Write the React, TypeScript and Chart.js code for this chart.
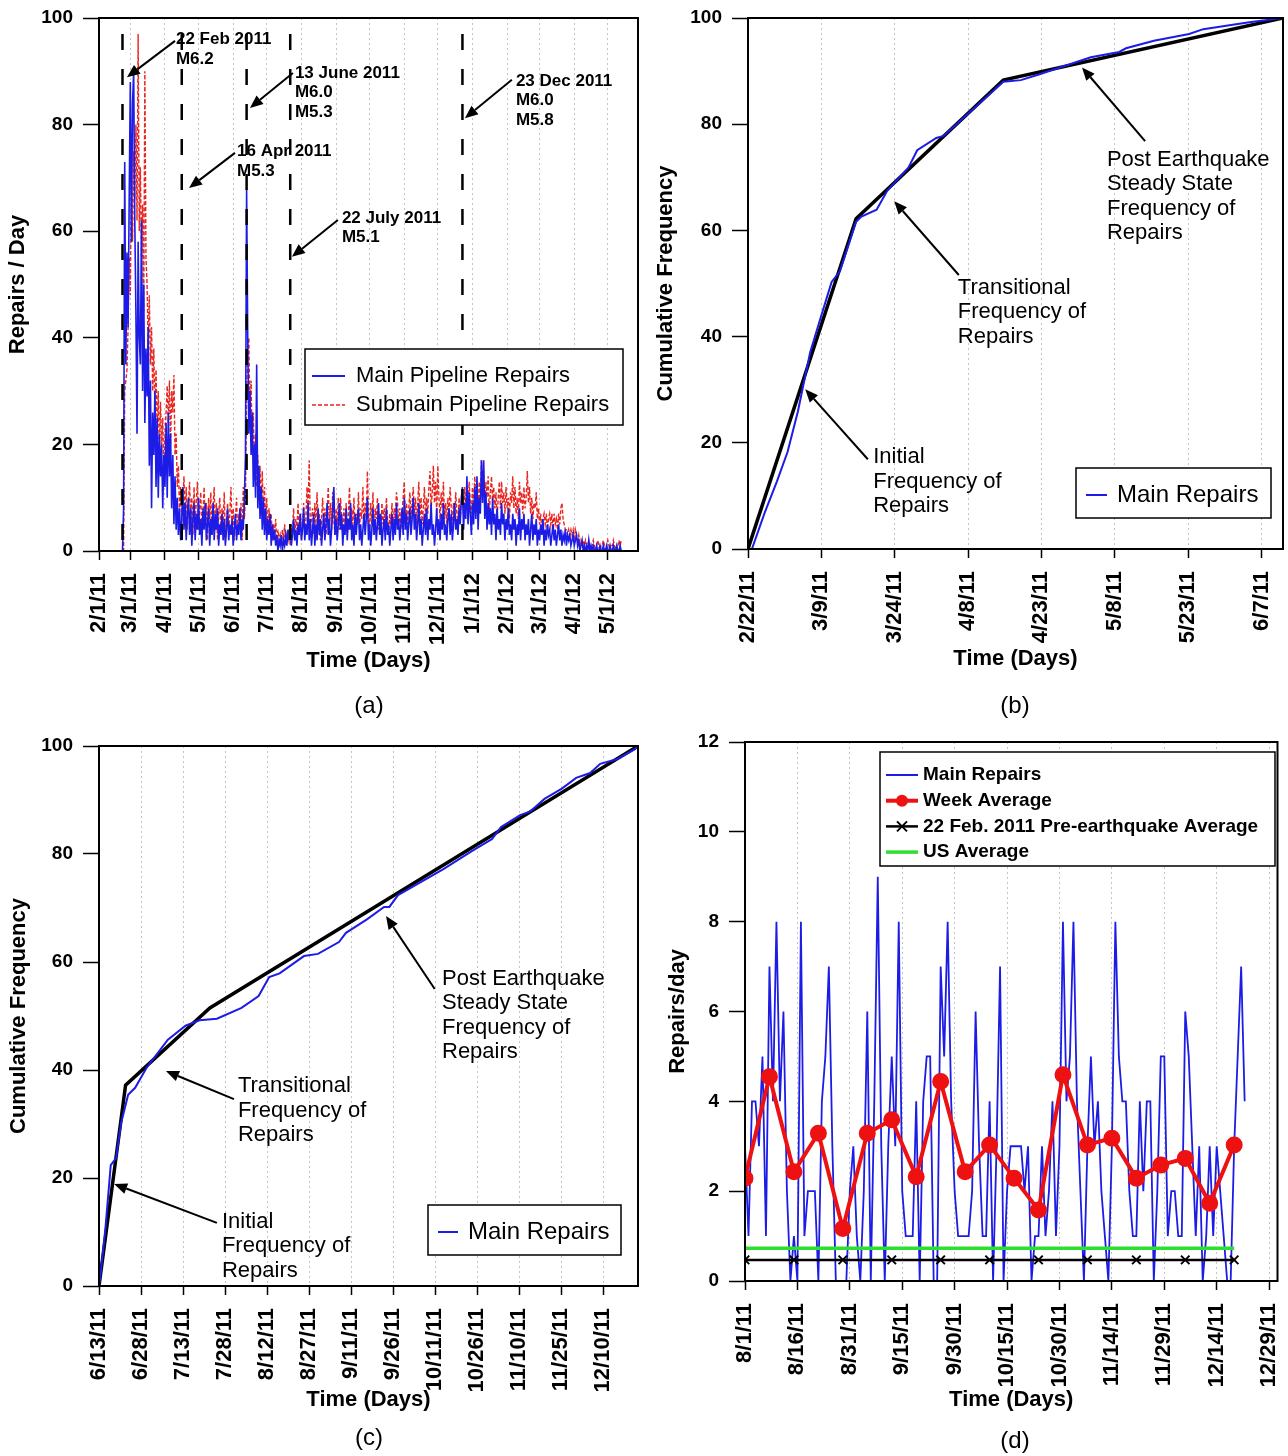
import React, { useEffect, useRef } from 'react';
import { Chart, registerables } from 'chart.js';

Chart.register(...registerables);

const FONT = '"Liberation Sans", Arial, Helvetica, sans-serif';
Chart.defaults.font.family = FONT;
Chart.defaults.color = '#000';

// ---------------- Panel (a): daily repairs ----------------
const aBase = '2/1/11';
const aXMax = 482;
const aTickLabels = ['2/1/11', '3/1/11', '4/1/11', '5/1/11', '6/1/11', '7/1/11', '8/1/11', '9/1/11', '10/1/11', '11/1/11', '12/1/11', '1/1/12', '2/1/12', '3/1/12', '4/1/12', '5/1/12'];
const aSeriesStart = '2/22/11';
const aMainRepairs = [
  0, 8, 73, 35, 56, 42, 66, 88, 58, 84,
  90, 62, 45, 22, 58, 40, 35, 62, 30, 50,
  24, 38, 29, 42, 16, 32, 8, 26, 18, 30,
  12, 25, 10, 22, 14, 20, 8, 18, 12, 24,
  10, 26, 14, 22, 8, 18, 5, 14, 4, 10,
  3, 8, 2, 6, 12, 4, 9, 2, 7, 10,
  3, 8, 1, 6, 9, 2, 7, 4, 10, 3,
  6, 1, 8, 4, 9, 2, 5, 8, 1, 6,
  3, 9, 2, 7, 4, 8, 1, 5, 3, 7,
  2, 6, 1, 4, 8, 2, 5, 3, 6, 1,
  4, 7, 2, 5, 3, 8, 2, 6, 4, 10,
  18, 68, 40, 22, 30, 18, 26, 12, 20, 10,
  35, 8, 16, 6, 12, 4, 10, 3, 8, 2,
  6, 3, 7, 1, 5, 2, 4, 1, 3, 0,
  2, 1, 3, 0, 2, 1, 3, 1, 4, 2,
  5, 1, 3, 6, 2, 4, 1, 5, 3, 7,
  2, 4, 8, 2, 5, 3, 9, 2, 6, 1,
  4, 7, 1, 5, 2, 8, 3, 6, 1, 4,
  7, 2, 5, 9, 3, 6, 1, 4, 8, 12,
  3, 6, 2, 5, 9, 4, 7, 1, 5, 3,
  8, 2, 6, 4, 9, 2, 5, 1, 7, 3,
  6, 8, 2, 5, 1, 4, 7, 3, 6, 10,
  2, 5, 1, 4, 8, 3, 6, 2, 5, 9,
  3, 7, 1, 4, 6, 2, 8, 3, 5, 1,
  4, 7, 2, 6, 3, 9, 4, 6, 2, 5,
  8, 3, 10, 4, 7, 2, 5, 8, 3, 6,
  10, 4, 7, 2, 5, 9, 3, 6, 1, 4,
  7, 3, 8, 2, 6, 4, 9, 3, 5, 1,
  4, 8, 3, 6, 2, 7, 4, 9, 3, 5,
  2, 6, 8, 3, 7, 2, 5, 9, 4, 6,
  3, 8, 5, 10, 12, 4, 9, 6, 14, 5,
  11, 7, 3, 9, 5, 12, 6, 14, 4, 10,
  7, 17, 9, 17, 6, 11, 4, 9, 5, 8,
  3, 10, 5, 7, 2, 8, 4, 6, 3, 9,
  5, 7, 2, 6, 4, 8, 3, 5, 2, 7,
  4, 6, 1, 5, 3, 8, 2, 6, 4, 7,
  2, 5, 3, 6, 1, 4, 7, 2, 5, 3,
  6, 1, 4, 2, 5, 3, 6, 1, 4, 2,
  5, 3, 4, 1, 3, 5, 2, 4, 1, 3,
  5, 2, 4, 1, 3, 2, 4, 1, 3, 2,
  3, 1, 2, 3, 1, 2, 3, 1, 2, 0,
  1, 2, 0, 1, 0, 1, 0, 2, 0, 1,
  0, 1, 0, 0, 1, 0, 0, 1, 0, 0,
  1, 0, 0, 1, 0, 0, 1, 0, 0, 1,
  0, 0, 1, 0, 0, 1, 0,
];
const aSubmainRepairs = [
  0, 0, 30, 32, 34, 42, 55, 48, 70, 58,
  75, 66, 80, 62, 97, 60, 72, 55, 65, 45,
  90, 55, 50, 38, 48, 35, 42, 30, 38, 26,
  34, 22, 30, 18, 28, 20, 25, 15, 22, 26,
  31, 24, 32, 20, 30, 26, 33, 18, 22, 12,
  16, 8, 12, 5, 10, 14, 6, 12, 4, 9,
  13, 5, 10, 3, 12, 6, 9, 13, 4, 8,
  11, 3, 7, 12, 5, 9, 2, 10, 6, 11,
  3, 8, 12, 4, 9, 2, 7, 10, 3, 8,
  5, 11, 2, 6, 9, 3, 7, 12, 4, 8,
  2, 6, 10, 3, 7, 4, 9, 2, 12, 6,
  10, 30, 38, 40, 24, 32, 20, 26, 14, 22,
  12, 18, 10, 16, 8, 15, 6, 12, 5, 10,
  3, 8, 4, 7, 2, 5, 3, 6, 1, 4,
  2, 3, 1, 4, 2, 5, 1, 3, 2, 4,
  1, 5, 3, 8, 2, 6, 4, 9, 3, 7,
  2, 5, 9, 3, 6, 12, 8, 17, 4, 6,
  8, 3, 9, 5, 11, 4, 7, 2, 6, 10,
  4, 8, 3, 7, 12, 5, 9, 4, 11, 6,
  3, 8, 5, 10, 4, 10, 6, 3, 8, 5,
  9, 3, 7, 12, 4, 8, 5, 10, 3, 7,
  5, 11, 4, 8, 6, 12, 5, 9, 6, 15,
  7, 4, 9, 5, 11, 3, 8, 6, 10, 4,
  7, 3, 9, 5, 8, 4, 10, 6, 3, 7,
  5, 9, 4, 8, 6, 11, 9, 5, 8, 4,
  7, 10, 13, 6, 9, 5, 8, 11, 6, 9,
  12, 7, 10, 5, 9, 13, 6, 10, 5, 8,
  12, 6, 10, 7, 12, 15, 8, 11, 16, 9,
  13, 7, 16, 10, 6, 11, 8, 13, 6, 9,
  5, 10, 7, 12, 8, 5, 9, 6, 11, 7,
  5, 10, 6, 9, 10, 7, 12, 8, 11, 6,
  13, 9, 7, 12, 8, 14, 10, 12, 7, 13,
  9, 17, 11, 15, 8, 13, 10, 14, 7, 11,
  14, 9, 12, 8, 11, 6, 10, 13, 8, 13,
  9, 11, 7, 12, 8, 10, 6, 11, 9, 14,
  8, 12, 7, 10, 6, 13, 9, 11, 7, 12,
  8, 10, 15, 9, 12, 7, 10, 6, 9, 8,
  11, 6, 8, 5, 7, 4, 6, 7, 5, 7,
  4, 6, 7, 5, 7, 4, 7, 5, 6, 4,
  7, 5, 8, 9, 6, 5, 4, 4, 3, 4,
  3, 4, 3, 4, 2, 4, 3, 2, 3, 1,
  2, 1, 2, 1, 2, 1, 1, 2, 1, 0,
  1, 2, 1, 0, 1, 2, 1, 0, 1, 1,
  2, 1, 0, 1, 2, 1, 0, 1, 1, 2,
  1, 0, 1, 1, 2, 1, 2,
];
const aEventDates = ['2/22/11', '4/16/11', '6/13/11', '7/22/11', '12/23/11'];
const aEventTop = 97;
const aNotes = [
  { lines: ['22 Feb 2011', 'M6.2'], at: [68.8, 96], from: [68, 95.7], to: [25, 88.9] },
  { lines: ['16 Apr 2011', 'M5.3'], at: [123.4, 74.9], from: [121.6, 74.7], to: [80.5, 68.1] },
  { lines: ['13 June 2011', 'M6.0', 'M5.3'], at: [175.2, 89.7], from: [173.4, 89.7], to: [135, 83.1] },
  { lines: ['22 July 2011', 'M5.1'], at: [217.2, 62.5], from: [213.6, 62.1], to: [172.5, 55.2] },
  { lines: ['23 Dec 2011', 'M6.0', 'M5.8'], at: [372.8, 88.2], from: [369.2, 88.4], to: [327.2, 81.2] },
];

// ---------------- Panel (b): cumulative, Feb - June 2011 ----------------
const bBase = '2/22/11';
const bXMax = 109.4;
const bTickLabels = ['2/22/11', '3/9/11', '3/24/11', '4/8/11', '4/23/11', '5/8/11', '5/23/11', '6/7/11'];
const bMainDays = [0.8, 3.4, 5.9, 8.1, 10.2, 12.7, 14.9, 17.1, 18.8, 22.1, 23.2, 26.3, 28.5, 32.8, 34.6, 38.5, 40, 44.3, 48.6, 52.2, 55.8, 59.3, 65.8, 70.1, 75.9, 77.3, 83, 90.2, 93.1, 98.8, 102.5, 109.4];
const bMainCum = [0, 6.8, 12.7, 18.3, 25.9, 37, 43.7, 50.3, 52.3, 61.6, 62.6, 63.9, 67.5, 71.8, 75.1, 77.4, 77.8, 81.4, 85, 88, 88.3, 89.3, 91.3, 92.6, 93.6, 94.3, 95.7, 97, 97.9, 98.7, 99.2, 100];
const bFitDays = [0, 22.1, 52.2, 109.4];
const bFitCum = [0, 62.2, 88.3, 100];
const bNotes = [
  { lines: ['Post Earthquake', 'Steady State', 'Frequency of', 'Repairs'], at: [73.4, 73.3], from: [81.2, 76.8], to: [68.3, 90.7] },
  { lines: ['Transitional', 'Frequency of', 'Repairs'], at: [42.9, 49.2], from: [43.1, 51.6], to: [29.9, 65.5] },
  { lines: ['Initial', 'Frequency of', 'Repairs'], at: [25.6, 17.3], from: [24.5, 16.9], to: [11.7, 30.1] },
];

// ---------------- Panel (c): cumulative, June - Dec 2011 ----------------
const cBase = '6/13/11';
const cXMax = 192.5;
const cTickLabels = ['6/13/11', '6/28/11', '7/13/11', '7/28/11', '8/12/11', '8/27/11', '9/11/11', '9/26/11', '10/11/11', '10/26/11', '11/10/11', '11/25/11', '12/10/11'];
const cMainDays = [0, 0.4, 2.3, 4.2, 6.1, 7.9, 10.4, 12.9, 17.1, 24.6, 30.9, 35.9, 42.1, 50.9, 57, 60.8, 64.5, 73.2, 78.2, 85.7, 88.2, 95.7, 101.8, 103.7, 106.8, 123, 133, 140.4, 143.6, 150.4, 154.1, 159.1, 165.3, 170.4, 175.4, 179, 185.2, 191.4, 192.5];
const cMainCum = [0, 1.4, 10.7, 22.4, 23.7, 30.2, 35.4, 36.7, 40.5, 45.6, 48.2, 49.2, 49.5, 51.5, 53.7, 57.2, 57.9, 61.1, 61.5, 63.7, 65.4, 67.9, 70.2, 70.2, 72.4, 77.2, 80.5, 82.8, 85, 87.2, 87.9, 90.2, 92.1, 94.1, 95, 96.7, 97.6, 99.4, 100];
const cFitDays = [0, 9.5, 39.6, 192.5];
const cFitCum = [0, 37.2, 51.5, 100];
const cNotes = [
  { lines: ['Post Earthquake', 'Steady State', 'Frequency of', 'Repairs'], at: [122.5, 56.9], from: [119.9, 55], to: [102.5, 68.5] },
  { lines: ['Transitional', 'Frequency of', 'Repairs'], at: [49.6, 37], from: [48.2, 34.6], to: [23.9, 39.8] },
  { lines: ['Initial', 'Frequency of', 'Repairs'], at: [43.9, 11.9], from: [42.1, 11.7], to: [5.4, 18.9] },
];

// ---------------- Panel (d): Aug - Dec 2011 ----------------
const dBase = '8/1/11';
const dXMax = 152.4;
const dTickLabels = ['8/1/11', '8/16/11', '8/31/11', '9/15/11', '9/30/11', '10/15/11', '10/30/11', '11/14/11', '11/29/11', '12/14/11', '12/29/11'];
const dMainRepairs = [
  3, 1, 4, 4, 3, 5, 1, 7, 4, 8,
  4, 6, 2, 0, 1, 0, 8, 1, 2, 2,
  2, 0, 4, 5, 7, 3, 0, 0, 0, 0,
  2, 3, 1, 0, 2, 6, 0, 4, 9, 3,
  0, 3, 5, 3, 8, 2, 1, 1, 1, 4,
  0, 4, 5, 5, 0, 0, 7, 5, 8, 4,
  2, 1, 1, 1, 1, 2, 6, 3, 1, 1,
  4, 0, 3, 7, 0, 2, 3, 3, 3, 3,
  2, 3, 0, 1, 1, 3, 1, 2, 4, 1,
  3, 8, 4, 5, 8, 4, 2, 0, 3, 5,
  3, 4, 2, 1, 0, 3, 8, 5, 4, 4,
  2, 1, 1, 4, 2, 4, 4, 0, 2, 5,
  5, 1, 2, 2, 1, 1, 6, 5, 3, 1,
  3, 0, 1, 3, 1, 3, 2, 1, 0, 0,
  3, 5, 7, 4,
];
const dWeekDays = [0, 7, 14, 21, 28, 35, 42, 49, 56, 63, 70, 77, 84, 91, 98, 105, 112, 119, 126, 133, 140];
const dWeekAvg = [2.29, 4.55, 2.43, 3.29, 1.17, 3.29, 3.59, 2.32, 4.44, 2.43, 3.03, 2.29, 1.58, 4.59, 3.03, 3.18, 2.29, 2.58, 2.73, 1.73, 3.03];
const dPreDays = [0, 14, 28, 42, 56, 70, 84, 98, 112, 126, 140];
const dPreAvg = [0.47, 0.47, 0.47, 0.47, 0.47, 0.47, 0.47, 0.47, 0.47, 0.47, 0.47];
const dUSDays = [0, 140];
const dUSAvg = [0.73, 0.73];

// ---------------- helpers ----------------
function parseDate(s: string) {
  const [m, d, y] = s.split('/').map(Number);
  return Date.UTC(2000 + y, m - 1, d);
}
function dayOf(s: string, base: string) {
  return Math.round((parseDate(s) - parseDate(base)) / 864e5);
}
const seq = (start: number, vals: number[]) => vals.map((v, i) => ({ x: start + i, y: v }));
const pairs = (xs: number[], ys: number[]) => xs.map((x, i) => ({ x, y: ys[i] }));

function arrow(ctx: any, x1: number, y1: number, x2: number, y2: number) {
  const ang = Math.atan2(y2 - y1, x2 - x1);
  const hl = 13, hw = 5.5;
  const bx = x2 - hl * Math.cos(ang), by = y2 - hl * Math.sin(ang);
  ctx.lineWidth = 2;
  ctx.beginPath(); ctx.moveTo(x1, y1); ctx.lineTo(bx, by); ctx.stroke();
  ctx.beginPath();
  ctx.moveTo(x2, y2);
  ctx.lineTo(bx + hw * Math.sin(ang), by - hw * Math.cos(ang));
  ctx.lineTo(bx - hw * Math.sin(ang), by + hw * Math.cos(ang));
  ctx.closePath(); ctx.fill();
}

function drawLegend(ctx: any, L: any) {
  ctx.save();
  ctx.fillStyle = '#fff';
  ctx.fillRect(L.x, L.y, L.w, L.h);
  ctx.lineWidth = 1.5; ctx.strokeStyle = '#000';
  ctx.strokeRect(L.x, L.y, L.w, L.h);
  ctx.font = L.font; ctx.textBaseline = 'middle'; ctx.textAlign = 'left';
  L.items.forEach((it: any, i: number) => {
    const y = L.y + L.first + i * L.step;
    ctx.save();
    ctx.strokeStyle = it.color; ctx.lineWidth = it.width; ctx.setLineDash(it.dash || []);
    ctx.beginPath(); ctx.moveTo(L.x + L.s0, y); ctx.lineTo(L.x + L.s1, y); ctx.stroke();
    ctx.setLineDash([]);
    const mx = L.x + (L.s0 + L.s1) / 2;
    if (it.marker === 'dot') {
      ctx.fillStyle = it.color; ctx.beginPath(); ctx.arc(mx, y, 6, 0, Math.PI * 2); ctx.fill();
    }
    if (it.marker === 'x') {
      ctx.lineWidth = 2; ctx.beginPath();
      ctx.moveTo(mx - 5, y - 5); ctx.lineTo(mx + 5, y + 5);
      ctx.moveTo(mx - 5, y + 5); ctx.lineTo(mx + 5, y - 5); ctx.stroke();
    }
    ctx.restore();
    ctx.fillStyle = '#000';
    ctx.fillText(it.label, L.x + L.tx, y);
  });
  ctx.restore();
}

function overlay(cfg: any) {
  return {
    id: 'overlay',
    afterDraw(chart: any) {
      const { ctx, chartArea: a } = chart;
      const sx = chart.scales.x, sy = chart.scales.y;
      ctx.save();
      ctx.strokeStyle = '#000'; ctx.lineWidth = 2;
      ctx.strokeRect(a.left, a.top, a.right - a.left, a.bottom - a.top);
      ctx.fillStyle = '#000';
      ctx.font = cfg.noteFont; ctx.textBaseline = 'middle'; ctx.textAlign = 'left';
      for (const n of cfg.notes || []) {
        const tx = sx.getPixelForValue(n.at[0]), ty = sy.getPixelForValue(n.at[1]);
        n.lines.forEach((l: string, i: number) => ctx.fillText(l, tx, ty + i * cfg.noteLH));
        arrow(ctx, sx.getPixelForValue(n.from[0]), sy.getPixelForValue(n.from[1]),
          sx.getPixelForValue(n.to[0]), sy.getPixelForValue(n.to[1]));
      }
      if (cfg.legend) drawLegend(ctx, cfg.legend);
      ctx.restore();
    },
  };
}

function makeOptions(p: any) {
  const tickVals = p.tickLabels.map((l: string) => dayOf(l, p.base));
  return {
    responsive: false,
    animation: false,
    devicePixelRatio: 1,
    layout: { padding: { left: 0, top: p.padTop, right: p.padRight, bottom: 0 } },
    plugins: { legend: { display: false }, tooltip: { enabled: false } },
    elements: { point: { radius: 0 }, line: { tension: 0 } },
    scales: {
      x: {
        type: 'linear', min: 0, max: p.xMax,
        afterBuildTicks: (s: any) => { s.ticks = tickVals.map((v: number) => ({ value: v })); },
        afterFit: (s: any) => { s.height = p.xHeight; s.paddingLeft = 0; s.paddingRight = 0; },
        ticks: {
          autoSkip: false, minRotation: 90, maxRotation: 90, padding: 13, color: '#000',
          font: { family: FONT, size: 22, weight: 'bold' },
          callback: (_v: any, i: number) => p.tickLabels[i],
        },
        grid: { display: true, drawOnChartArea: true, color: '#c4c4c4', lineWidth: 1, drawTicks: true, tickLength: 9, tickColor: '#000', tickWidth: 1.5 },
        border: { display: false, dash: [2, 3] },
        title: { display: true, text: 'Time (Days)', color: '#000', font: { family: FONT, size: 22, weight: 'bold' }, padding: { top: 0, bottom: p.xTitlePad } },
      },
      y: {
        type: 'linear', min: 0, max: p.yMax,
        afterFit: (s: any) => { s.width = p.yWidth; s.paddingTop = 0; s.paddingBottom = 0; },
        ticks: { stepSize: p.yStep, padding: 10, color: '#000', font: { family: FONT, size: 19, weight: 'bold' } },
        grid: { display: true, drawOnChartArea: false, drawTicks: true, tickLength: 16, tickColor: '#000', tickWidth: 1.5 },
        border: { display: false },
        title: { display: true, text: p.yTitle, color: '#000', font: { family: FONT, size: 22, weight: 'bold' }, padding: { top: p.yTitlePad, bottom: 0 } },
      },
    },
  };
}

const BLUE = '#1c1ce6';

function configA() {
  const start = dayOf(aSeriesStart, aBase);
  const events = aEventDates.map((d) => {
    const x = dayOf(d, aBase);
    return { data: [{ x, y: aEventTop }, { x, y: 0 }], borderColor: '#000', borderWidth: 2.5, borderDash: [16, 19], pointRadius: 0, order: 0 };
  });
  return {
    type: 'line',
    data: {
      datasets: [
        ...events,
        { label: 'Main Pipeline Repairs', data: seq(start, aMainRepairs), borderColor: BLUE, borderWidth: 1.6, order: 1 },
        { label: 'Submain Pipeline Repairs', data: seq(start, aSubmainRepairs), borderColor: '#e8251f', borderWidth: 1.4, borderDash: [4, 2], order: 2 },
      ],
    },
    options: makeOptions({ base: aBase, tickLabels: aTickLabels, xMax: aXMax, padTop: 18, padRight: 6, xHeight: 149, yWidth: 99, xTitlePad: 26, yTitlePad: 5, yMax: 100, yStep: 20, yTitle: 'Repairs / Day' }),
    plugins: [overlay({
      notes: aNotes, noteFont: `bold 17px ${FONT}`, noteLH: 19.5,
      legend: {
        x: 305, y: 349, w: 318, h: 76, first: 27, step: 29, s0: 7, s1: 40, tx: 51, font: `22px ${FONT}`,
        items: [
          { label: 'Main Pipeline Repairs', color: BLUE, width: 2 },
          { label: 'Submain Pipeline Repairs', color: '#e8251f', width: 1.6, dash: [4, 2] },
        ],
      },
    })],
  };
}

function configCum(p: any) {
  return {
    type: 'line',
    data: {
      datasets: [
        { label: 'Main Repairs', data: pairs(p.days, p.cum), borderColor: BLUE, borderWidth: 2, order: 0 },
        { label: 'Fit', data: pairs(p.fitDays, p.fitCum), borderColor: '#000', borderWidth: 3.5, order: 1 },
      ],
    },
    options: makeOptions(p.opts),
    plugins: [overlay({
      notes: p.notes, noteFont: `22px ${FONT}`, noteLH: 24.5,
      legend: {
        ...p.legend, first: 27, step: 0, font: `24px ${FONT}`,
        items: [{ label: 'Main Repairs', color: BLUE, width: 2 }],
      },
    })],
  };
}

function configD() {
  return {
    type: 'line',
    data: {
      datasets: [
        { label: 'Week Average', data: pairs(dWeekDays, dWeekAvg), borderColor: '#ee1111', backgroundColor: '#ee1111', borderWidth: 4, pointRadius: 6.5, pointBackgroundColor: '#ee1111', pointBorderColor: '#ee1111', order: 0 },
        { label: '22 Feb. 2011 Pre-earthquake Average', data: pairs(dPreDays, dPreAvg), borderColor: '#000', borderWidth: 2.5, pointStyle: 'crossRot', pointRadius: 6, pointBorderWidth: 2, pointBorderColor: '#000', order: 1 },
        { label: 'US Average', data: pairs(dUSDays, dUSAvg), borderColor: '#2ee02e', borderWidth: 3.5, order: 2 },
        { label: 'Main Repairs', data: seq(0, dMainRepairs), borderColor: BLUE, borderWidth: 1.8, order: 3 },
      ],
    },
    options: makeOptions({ base: dBase, tickLabels: dTickLabels, xMax: dXMax, padTop: 14, padRight: 8, xHeight: 175, yWidth: 101, xTitlePad: 43, yTitlePad: 21, yMax: 12, yStep: 2, yTitle: 'Repairs/day' }),
    plugins: [overlay({
      notes: [], noteFont: `bold 17px ${FONT}`, noteLH: 20,
      legend: {
        x: 236, y: 24, w: 395, h: 114, first: 23, step: 25.7, s0: 6, s1: 38, tx: 43, font: `bold 19px ${FONT}`,
        items: [
          { label: 'Main Repairs', color: BLUE, width: 2 },
          { label: 'Week Average', color: '#ee1111', width: 4, marker: 'dot' },
          { label: '22 Feb. 2011 Pre-earthquake Average', color: '#000', width: 2.5, marker: 'x' },
          { label: 'US Average', color: '#2ee02e', width: 3.5 },
        ],
      },
    })],
  };
}

function ChartCanvas({ left, top, width, height, make }: any) {
  const ref = useRef<HTMLCanvasElement>(null);
  useEffect(() => {
    const chart = new Chart(ref.current as any, make());
    return () => chart.destroy();
  }, []);
  return <canvas ref={ref} width={width} height={height} style={{ position: 'absolute', left, top, width, height }} />;
}

function Caption({ x, y, text }: any) {
  return (
    <div style={{ position: 'absolute', left: x - 50, top: y - 14, width: 100, height: 28, lineHeight: '28px', textAlign: 'center', fontFamily: FONT, fontSize: 24, color: '#000' }}>
      {text}
    </div>
  );
}

export default function App() {
  return (
    <div style={{ position: 'absolute', left: 0, top: 0, width: 1288, height: 1456, background: '#fff', overflow: 'hidden' }}>
      <ChartCanvas left={0} top={0} width={644} height={700} make={configA} />
      <ChartCanvas left={644} top={0} width={644} height={700} make={() => configCum({
        days: bMainDays, cum: bMainCum, fitDays: bFitDays, fitCum: bFitCum, notes: bNotes,
        legend: { x: 432, y: 468, w: 195, h: 50, s0: 10, s1: 31, tx: 41 },
        opts: { base: bBase, tickLabels: bTickLabels, xMax: bXMax, padTop: 18, padRight: 5, xHeight: 151, yWidth: 104, xTitlePad: 28, yTitlePad: 9, yMax: 100, yStep: 20, yTitle: 'Cumulative Frequency' },
      })} />
      <ChartCanvas left={0} top={728} width={644} height={728} make={() => configCum({
        days: cMainDays, cum: cMainCum, fitDays: cFitDays, fitCum: cFitCum, notes: cNotes,
        legend: { x: 428, y: 477, w: 193, h: 50, s0: 10, s1: 30, tx: 40 },
        opts: { base: cBase, tickLabels: cTickLabels, xMax: cXMax, padTop: 18, padRight: 6, xHeight: 170, yWidth: 99, xTitlePad: 43, yTitlePad: 6, yMax: 100, yStep: 20, yTitle: 'Cumulative Frequency' },
      })} />
      <ChartCanvas left={644} top={728} width={644} height={728} make={configD} />
      <Caption x={369} y={705} text="(a)" />
      <Caption x={1015} y={705} text="(b)" />
      <Caption x={369} y={1437} text="(c)" />
      <Caption x={1015} y={1440} text="(d)" />
    </div>
  );
}
